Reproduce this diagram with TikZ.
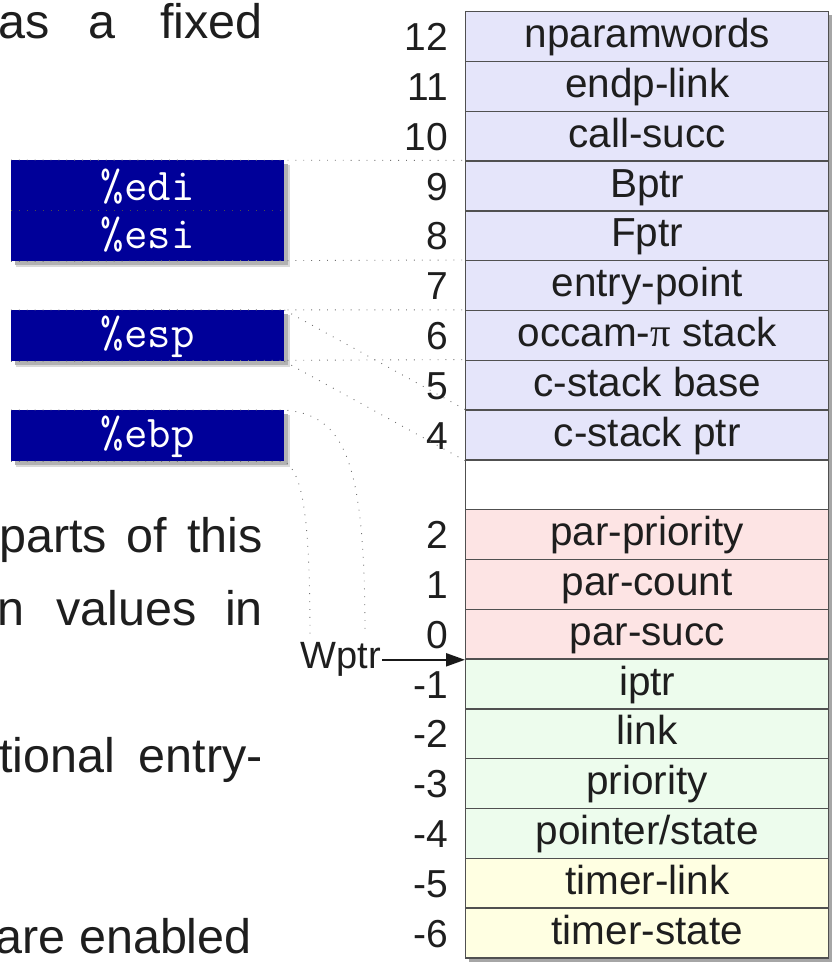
\documentclass[tikz,border=0pt]{standalone}
\usepackage{fontspec}
\setmainfont{Liberation Sans}
\newfontfamily\pifont{Liberation Serif}
\usetikzlibrary{arrows.meta}
\definecolor{rowblue}{RGB}{229,229,250}
\definecolor{rowpink}{RGB}{253,228,228}
\definecolor{rowgreen}{RGB}{237,252,237}
\definecolor{rowyellow}{RGB}{255,255,226}
\definecolor{regblue}{RGB}{0,0,153}
\definecolor{ink}{RGB}{30,30,30}
\definecolor{rulegray}{RGB}{80,80,80}
\newcommand\tabrow[4]{%
  \node[cell, fill=#4] (r#1) at (465, 11+#1*49.8) {};
  \node[lbl] (l#1) at ([yshift=14.5pt]r#1.south) {#3};
  \node[num] (n#1) at ([xshift=-17pt, yshift=11.5pt]r#1.south west) {#2};
}
\begin{document}
\begin{tikzpicture}[x=1pt,y=-1pt,
  cell/.style={draw=rulegray, line width=1.4pt, minimum width=363pt, minimum height=49.8pt, inner sep=0pt, anchor=north west},
  lbl/.style={inner sep=0pt, anchor=base, text=ink, font=\fontsize{40.5}{48}\selectfont},
  num/.style={inner sep=0pt, anchor=base east, text=ink, font=\fontsize{39}{46}\selectfont},
  body/.style={inner sep=0pt, text=ink, font=\fontsize{48.5}{56}\selectfont},
  reg/.style={fill=regblue, minimum width=273pt, inner sep=0pt, anchor=north west},
  regtxt/.style={inner sep=0pt, anchor=base, text=white, font=\ttfamily\fontsize{45.5}{52}\selectfont},
  ptr/.style={draw=black!55, line width=0.9pt, dash pattern=on 0.9pt off 7pt},
  regshadow/.style={fill=black!30},
]
\useasboundingbox (0,0) rectangle (831,962);

% background paragraph text
\node[body, anchor=base west] (t1a) at (-2,38) {as};
\node[body, anchor=base west] (t1b) at (88,38) {a};
\node[body, anchor=base east] (t1c) at (263,38) {fixed};
\node[body, anchor=base west] (t2a) at (-1,552) {parts};
\node[body, anchor=base west] (t2b) at (126,552) {of};
\node[body, anchor=base east] (t2c) at (263,552) {this};
\node[body, anchor=base west] (t3a) at (-3,625) {n};
\node[body, anchor=base west] (t3b) at (56,625) {values};
\node[body, anchor=base east] (t3c) at (263,625) {in};
\node[body, anchor=base west] (t4a) at (-1,772) {tional};
\node[body, anchor=base east] (t4b) at (263,772) {entry-};
\node[body, anchor=base east] (t5) at (252,953) {are enabled};

% table shadow
\fill[black!18] (471,17) rectangle (834,964);
\fill[black!35] (469,15) rectangle (832,962);

% table rows
\tabrow{0}{12}{nparamwords}{rowblue}
\tabrow{1}{11}{endp-link}{rowblue}
\tabrow{2}{10}{call-succ}{rowblue}
\tabrow{3}{9}{Bptr}{rowblue}
\tabrow{4}{8}{Fptr}{rowblue}
\tabrow{5}{7}{entry-point}{rowblue}
\tabrow{6}{6}{occam-{\pifont π} stack}{rowblue}
\tabrow{7}{5}{c-stack base}{rowblue}
\tabrow{8}{4}{c-stack ptr}{rowblue}
\tabrow{9}{}{}{white}
\tabrow{10}{2}{par-priority}{rowpink}
\tabrow{11}{1}{par-count}{rowpink}
\tabrow{12}{0}{par-succ}{rowpink}
\tabrow{13}{-1}{iptr}{rowgreen}
\tabrow{14}{-2}{link}{rowgreen}
\tabrow{15}{-3}{priority}{rowgreen}
\tabrow{16}{-4}{pointer/state}{rowgreen}
\tabrow{17}{-5}{timer-link}{rowyellow}
\tabrow{18}{-6}{timer-state}{rowyellow}

% register boxes: shadows
\fill[black!15] (16,165) rectangle (290,267);
\fill[regshadow] (15,164) rectangle (288,265);
\fill[black!15] (16,315) rectangle (290,367);
\fill[regshadow] (15,314) rectangle (288,365);
\fill[black!15] (16,415) rectangle (290,467);
\fill[regshadow] (15,414) rectangle (288,465);

% register boxes
\node[reg, minimum height=101pt] (edi) at (11,160) {};
\node[reg, minimum height=51pt] (esp) at (11,310) {};
\node[reg, minimum height=51pt] (ebp) at (11,410) {};
\node[regtxt] (tedi) at ([yshift=10.5pt]edi.center) {\%edi};
\node[regtxt] (tesi) at ([yshift=-37.5pt]edi.center) {\%esi};
\node[regtxt] (tesp) at ([yshift=-11.5pt]esp.center) {\%esp};
\node[regtxt] (tebp) at ([yshift=-11.5pt]ebp.center) {\%ebp};

% dotted pointer lines
\draw[ptr] (edi.north west) -- (r3.north west);
\draw[ptr, draw=black!70] (edi.west) -- (edi.east);
\draw[ptr] (edi.south west) -- (r5.north west);
\draw[ptr] (esp.north west) -- (r6.north west);
\draw[ptr] (esp.south west) -- (r7.north west);
\draw[ptr] (esp.north east) -- (r8.north west);
\draw[ptr] (esp.south east) -- (r8.south west);

% Wptr
\node[inner sep=1pt, anchor=base east, text=ink, font=\fontsize{38}{46}\selectfont] (wptr) at (382,668) {Wptr};
\coordinate (c1) at (wptr.north -| 365,0);
\coordinate (c2) at (wptr.north -| 310,0);
\draw[ptr] (ebp.north west) -- (ebp.north east) .. controls +(61,5) and +(0,-173) .. ([yshift=6pt]c1);
\draw[ptr] (ebp.south west) -- (ebp.south east) .. controls +(16,10) and +(0,-130) .. ([yshift=6pt]c2);
\draw[-{Triangle[length=19pt,width=13pt]}, line width=2.2pt, draw=black!90, fill=black!90]
  (wptr.east |- r12.south west) -- (r12.south west);
\end{tikzpicture}
\end{document}
